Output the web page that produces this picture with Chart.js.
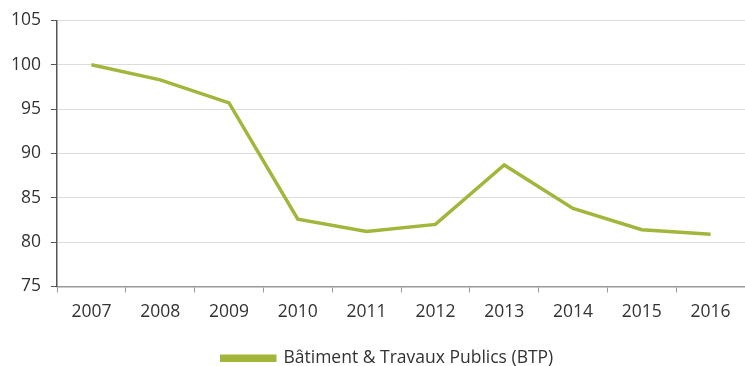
<!DOCTYPE html>
<html lang="fr">
<head>
  <meta charset="UTF-8" />
  <title>BTP - Indice</title>
  <script src="https://cdn.jsdelivr.net/npm/chart.js"></script>
  <style>
    body {
      margin: 0;
      padding: 0;
      background: #ffffff;
    }

    .chart-box {
      width: 745px;
      height: 366px;
    }
  </style>
</head>
<body>

  <div class="chart-box">
    <canvas id="btpChart"></canvas>
  </div>

  <script>
    // Indice base 100 en 2007
    const years = ['2007', '2008', '2009', '2010', '2011', '2012', '2013', '2014', '2015', '2016'];
    const btpValues = [100, 98.3, 95.7, 82.6, 81.2, 82.0, 88.7, 83.8, 81.4, 80.9];
    const yTicks = [75, 80, 85, 90, 95, 100, 105];

    const labelFont = { family: "'Open Sans', sans-serif", size: 17.5 };

    // nudge the legend a bit to the right of the canvas centre
    const legendShift = {
      id: 'legendShift',
      afterLayout(chart) {
        chart.legend.left += 15;
        chart.legend.right += 15;
      }
    };

    new Chart(document.getElementById('btpChart'), {
      type: 'line',
      data: {
        labels: years,
        datasets: [{
          label: 'Bâtiment & Travaux Publics (BTP)',
          data: btpValues,
          borderColor: '#a4b53c',
          backgroundColor: '#a4b53c',
          borderWidth: 3.5,
          pointRadius: 0,
          tension: 0
        }]
      },
      options: {
        responsive: true,
        maintainAspectRatio: false,
        animation: false,
        layout: {
          // the legend adds 10px below itself, pulled back off the canvas
          padding: { top: 19, right: 0, bottom: -11, left: 0 }
        },
        plugins: {
          tooltip: { enabled: false },
          legend: {
            position: 'bottom',
            labels: {
              color: '#333333',
              font: labelFont,
              boxWidth: 53,
              boxHeight: 4,
              padding: 0
            }
          }
        },
        scales: {
          x: {
            offset: true,
            grid: {
              offset: true,
              drawOnChartArea: false,
              drawTicks: true,
              tickLength: 6,
              tickColor: '#999999'
            },
            border: { color: '#999999', width: 1.5 },
            ticks: {
              color: '#333333',
              font: labelFont,
              padding: 9,
              maxRotation: 0
            },
            afterFit: scale => { scale.height = 63; }
          },
          y: {
            min: 75,
            max: 105,
            afterBuildTicks: scale => {
              scale.ticks = yTicks.map(v => ({ value: v }));
            },
            grid: {
              color: '#dcdcdc',
              lineWidth: 1,
              tickLength: 6,
              tickColor: '#555555'
            },
            border: { color: '#555555', width: 1.5 },
            ticks: {
              color: '#333333',
              font: labelFont,
              padding: 10
            },
            afterFit: scale => { scale.width = 57; }
          }
        }
      },
      plugins: [legendShift]
    });
  </script>

</body>
</html>
